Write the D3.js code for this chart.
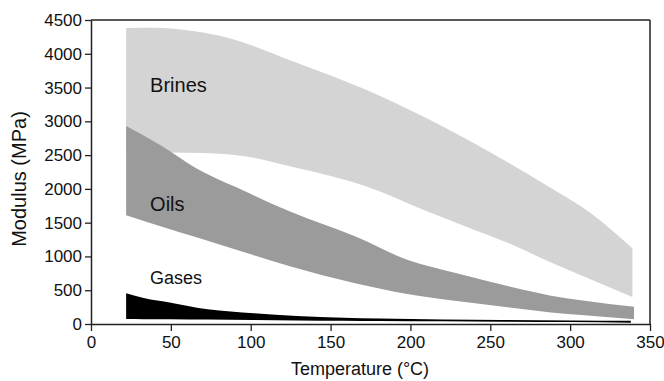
<!DOCTYPE html>
<html>
<head>
<meta charset="utf-8">
<script src="https://cdn.jsdelivr.net/npm/d3@7"></script>
<style>
  body { margin: 0; background: #fff; }
  svg { display: block; font-family: Arial, "Liberation Sans", sans-serif; }
</style>
</head>
<body>
<svg id="chart" width="664" height="381"></svg>
<script>
// temperature (°C) and modulus (MPa)
const brinesT    = [22, 40, 60, 80, 100, 125, 150, 173, 208, 235, 262, 288, 313, 339];
const brinesHigh = [4380, 4385, 4350, 4270, 4130, 3900, 3680, 3460, 3070, 2740, 2380, 2013, 1640, 1120];
const brinesLow  = [2540, 2540, 2535, 2520, 2470, 2330, 2190, 2030, 1690, 1440, 1190, 910, 660, 400];

const oilsT    = [22, 50, 64, 95, 125, 166, 198, 229, 262, 288, 309, 340];
const oilsHigh = [2930, 2550, 2330, 1980, 1660, 1290, 950, 750, 555, 420, 346, 256];
const oilsLow  = [1610, 1400, 1300, 1070, 850, 600, 445, 340, 245, 172, 130, 70];

const gasesT    = [22, 33, 50, 73, 102, 129, 158, 181, 220, 257, 300, 338];
const gasesHigh = [455, 385, 315, 217, 158, 118, 93, 80, 68, 59, 52, 48];
const gasesLow  = [74, 72, 70, 65, 58, 52, 48, 44, 40, 35, 28, 20];

const xTicks = [0, 50, 100, 150, 200, 250, 300, 350];
const yTicks = [0, 500, 1000, 1500, 2000, 2500, 3000, 3500, 4000, 4500];

const bands = [
  { name: 'Brines', t: brinesT, hi: brinesHigh, lo: brinesLow, color: '#d4d4d4' },
  { name: 'Oils',   t: oilsT,   hi: oilsHigh,   lo: oilsLow,   color: '#9b9b9b' },
  { name: 'Gases',  t: gasesT,  hi: gasesHigh,  lo: gasesLow,  color: '#000000' }
];

const margin = { top: 20, right: 14, bottom: 57, left: 91 };
const width = 664 - margin.left - margin.right;
const height = 381 - margin.top - margin.bottom;

const svg = d3.select('#chart');
const g = svg.append('g').attr('transform', `translate(${margin.left},${margin.top})`);

const x = d3.scaleLinear().domain([0, 350]).range([0, width]);
const y = d3.scaleLinear().domain([0, 4500]).range([height, 0]);

const area = d3.area()
  .x(d => x(d.t))
  .y0(d => y(d.lo))
  .y1(d => y(d.hi))
  .curve(d3.curveMonotoneX);

bands.forEach(b => {
  const pts = b.t.map((t, i) => ({ t: t, hi: b.hi[i], lo: b.lo[i] }));
  g.append('path')
    .datum(pts)
    .attr('d', area)
    .attr('fill', b.color);
});

// band labels
g.append('text').attr('x', x(37)).attr('y', y(3440)).text('Brines')
  .style('font-size', '20px').attr('fill', '#111');
g.append('text').attr('x', x(37)).attr('y', y(1680)).text('Oils')
  .style('font-size', '20px').attr('fill', '#111');
g.append('text').attr('x', x(37)).attr('y', y(590)).text('Gases')
  .style('font-size', '18px').attr('fill', '#111');

// frame: top and right
g.append('line').attr('x1', 0).attr('x2', width).attr('y1', 0).attr('y2', 0)
  .attr('stroke', '#222').attr('stroke-width', 1.5);
g.append('line').attr('x1', width).attr('x2', width).attr('y1', 0).attr('y2', height)
  .attr('stroke', '#222').attr('stroke-width', 1.5);

const xAxis = g.append('g')
  .attr('transform', `translate(0,${height})`)
  .call(d3.axisBottom(x).tickValues(xTicks).tickFormat(d3.format('d'))
    .tickSize(7).tickPadding(5).tickSizeOuter(0));
const yAxis = g.append('g')
  .call(d3.axisLeft(y).tickValues(yTicks).tickFormat(d3.format('d'))
    .tickSize(6).tickPadding(3).tickSizeOuter(0));

[xAxis, yAxis].forEach(a => {
  a.select('.domain').attr('stroke', '#222').attr('stroke-width', 1.5);
  a.selectAll('.tick line').attr('stroke', '#222').attr('stroke-width', 1.3);
  a.selectAll('.tick text')
    .style('font-family', 'Arial, "Liberation Sans", sans-serif')
    .style('font-size', '17px')
    .attr('fill', '#111');
});

svg.append('text')
  .attr('x', 360).attr('y', 375)
  .attr('text-anchor', 'middle')
  .style('font-size', '18px').attr('fill', '#111')
  .text('Temperature (°C)');

svg.append('text')
  .attr('transform', 'translate(26,179) rotate(-90)')
  .attr('text-anchor', 'middle')
  .style('font-size', '20px').attr('fill', '#111')
  .text('Modulus (MPa)');
</script>
</body>
</html>
